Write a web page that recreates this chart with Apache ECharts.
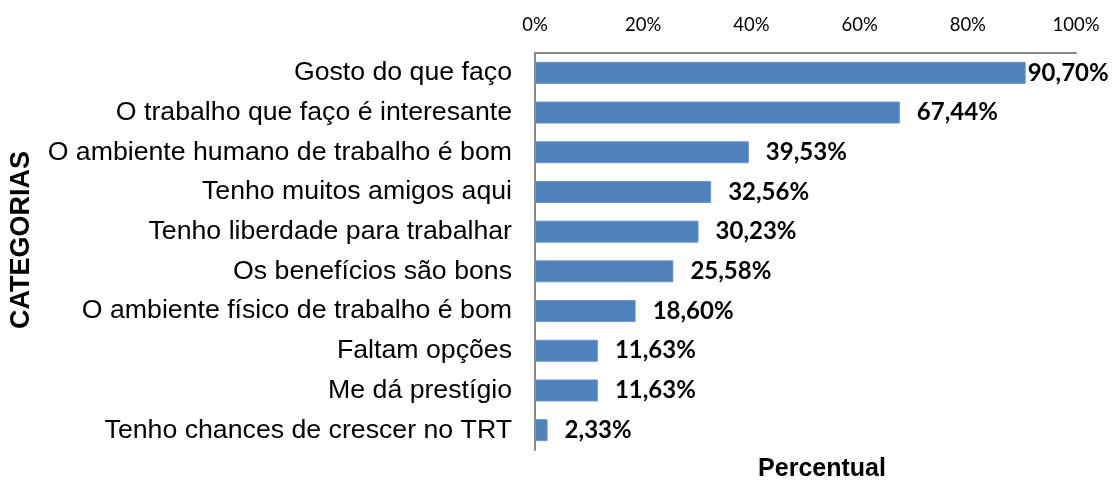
<!DOCTYPE html>
<html>
<head>
<meta charset="utf-8">
<script src="https://cdn.jsdelivr.net/npm/echarts@6/dist/echarts.min.js"></script>
<style>
  html, body { margin: 0; padding: 0; background: #fff; }
  #chart { width: 1112px; height: 483px; }
</style>
</head>
<body>
<div id="chart"></div>
<script>
// categorias (de cima para baixo) e percentuais
var categorias = [
  "Gosto do que faço",
  "O trabalho que faço é interesante",
  "O ambiente humano de trabalho é bom",
  "Tenho muitos amigos aqui",
  "Tenho liberdade para trabalhar",
  "Os benefícios são bons",
  "O ambiente físico de trabalho é bom",
  "Faltam opções",
  "Me dá prestígio",
  "Tenho chances de crescer no TRT"
];
var percentuais = [90.70, 67.44, 39.53, 32.56, 30.23, 25.58, 18.60, 11.63, 11.63, 2.33];
var ticks = [0, 20, 40, 60, 80, 100];

var myChart = echarts.init(document.getElementById("chart"));

var barData = percentuais.map(function (v, i) {
  // o primeiro rótulo fica colado na barra
  return { value: v, label: { distance: i === 0 ? 2 : 17 } };
});

myChart.setOption({
  animation: false,
  grid: {
    left: 535,
    right: 36,
    top: 53,
    bottom: 33
  },
  xAxis: {
    type: "value",
    position: "top",
    min: ticks[0],
    max: ticks[ticks.length - 1],
    interval: 20,
    axisLine: { show: true, lineStyle: { color: "#868686", width: 2 } },
    axisTick: { show: false },
    splitLine: { show: false },
    axisLabel: {
      margin: 18,
      color: "#000",
      fontFamily: "Lato",
      fontSize: 18.5,
      formatter: function (v) { return v + "%"; }
    }
  },
  yAxis: {
    type: "category",
    data: categorias,
    inverse: true,
    axisLine: { show: true, lineStyle: { color: "#868686", width: 2 } },
    axisTick: { show: false },
    axisLabel: {
      margin: 23,
      color: "#000",
      fontFamily: "Liberation Sans",
      fontSize: 26.7
    }
  },
  graphic: [
    {
      type: "text",
      x: 22,
      y: 240,
      rotation: Math.PI / 2,
      style: {
        text: "CATEGORIAS",
        fill: "#000",
        font: "bold 27px 'Liberation Sans'",
        align: "center",
        verticalAlign: "middle"
      }
    },
    {
      type: "text",
      x: 822,
      y: 469,
      style: {
        text: "Percentual",
        fill: "#000",
        font: "bold 25px 'Liberation Sans'",
        align: "center",
        verticalAlign: "middle"
      }
    }
  ],
  series: [
    {
      type: "bar",
      data: barData,
      barWidth: 22,
      itemStyle: {
        color: "#4F81BD",
        borderColor: "#6E97CB",
        borderWidth: 1
      },
      label: {
        show: true,
        position: "right",
        color: "#000",
        fontFamily: "Lato",
        fontWeight: "bold",
        fontSize: 24,
        formatter: function (p) {
          return p.value.toFixed(2).replace(".", ",") + "%";
        }
      }
    }
  ]
});
</script>
</body>
</html>
